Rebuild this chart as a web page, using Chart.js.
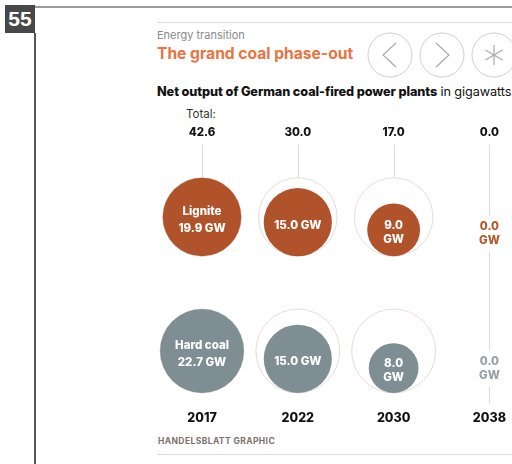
<!DOCTYPE html>
<html>
<head>
<meta charset="utf-8">
<script src="https://cdn.jsdelivr.net/npm/chart.js@4.4.1/dist/chart.umd.min.js"></script>
<style>
  body { margin: 0; width: 512px; height: 464px; overflow: hidden; background: #fff; position: relative; font-family: Inter, Lato, sans-serif; }
  .abs { position: absolute; }
  .badge { left: 5px; top: 5px; width: 30px; height: 28px; background: #484848; color: #fff; font: bold 21px "Liberation Sans", Arial, sans-serif; line-height: 28px; text-align: center; }
  .frameTop { left: 35px; top: 6px; width: 477px; height: 2px; background: #9b9b9b; }
  .frameLeft { left: 34px; top: 33px; width: 2px; height: 431px; background: #555; }
  .rule { left: 157px; width: 355px; height: 1px; background: #dcdcdc; }
  .kicker { left: 157px; top: 28px; font-size: 11px; color: #8a8a8a; }
  .title { left: 157px; top: 44px; font-size: 15.6px; font-weight: 700; color: #ea7340; }
  .subtitle { left: 157px; top: 84px; font-size: 12.7px; color: #111; white-space: nowrap; letter-spacing: -0.1px; }
  .subtitle b { font-weight: 800; }
  .total { left: 186px; top: 107px; font-size: 11.5px; color: #333; }
  .credit { left: 158px; top: 436px; font-size: 8.5px; font-weight: 700; color: #7b716c; letter-spacing: 0.4px; }
  #wrap { left: 140px; top: 100px; width: 372px; height: 335px; }
</style>
</head>
<body>
<div class="abs badge">55</div>
<div class="abs frameTop"></div>
<div class="abs frameLeft"></div>
<div class="abs rule" style="top:22px"></div>
<div class="abs kicker">Energy transition</div>
<div class="abs title">The grand coal phase-out</div>
<svg class="abs" style="left:360px;top:30px" width="152" height="52">
  <g fill="none" stroke="#d0d0d0" stroke-width="1">
    <circle cx="30" cy="25" r="22"/>
    <circle cx="82" cy="25" r="22"/>
    <circle cx="134" cy="25" r="22"/>
  </g>
  <g fill="none" stroke="#aaaaaa" stroke-width="1.2">
    <polyline points="36,13 23,25 36,37"/>
    <polyline points="76,13 89,25 76,37"/>
    <line x1="134" y1="15" x2="134" y2="35"/>
    <line x1="125.3" y1="20" x2="142.7" y2="30"/>
    <line x1="125.3" y1="30" x2="142.7" y2="20"/>
  </g>
</svg>
<div class="abs subtitle"><b>Net output of German coal-fired power plants</b> in gigawatts</div>
<div class="abs total">Total:</div>
<div class="abs" id="wrap"><canvas id="coalChart" width="372" height="335"></canvas></div>
<div class="abs credit">HANDELSBLATT GRAPHIC</div>
<div class="abs rule" style="top:454px"></div>

<script>
const years = ['2017', '2022', '2030', '2038'];
const lignite = [19.9, 15.0, 9.0, 0.0];
const hardCoal = [22.7, 15.0, 8.0, 0.0];
const seriesNames = ['Lignite', 'Hard coal'];

// layout of the canvas (pixels)
const CANVAS_H = 335;
const TOP_AXIS_H = 45;
const BOTTOM_AXIS_H = 30;
const PLOT_H = CANVAS_H - TOP_AXIS_H - BOTTOM_AXIS_H;

// area-proportional circles
const K = 8.8;
const radius = v => K * Math.sqrt(v);

const totals = years.map((y, i) => (lignite[i] + hardCoal[i]).toFixed(1));

const rows = [
    { name: seriesNames[0], values: lignite, y: 72, fill: '#b0532a', zero: '#b5582b' },
    { name: seriesNames[1], values: hardCoal, y: 206, fill: '#7f8e93', zero: '#97a2a6' }
];

const datasets = [];

rows.forEach(row => {
    const R = radius(row.values[0]);
    // filled circle, sitting on the bottom of the reference ring
    datasets.push({
        label: row.name,
        xAxisID: 'x',
        data: row.values.map((v, i) => ({ x: years[i], y: row.y + (R - radius(v)), r: radius(v) })),
        backgroundColor: row.fill,
        borderWidth: 0,
        clip: false,
        order: 0
    });
    // ring showing the 2017 size
    datasets.push({
        label: row.name + ' 2017',
        xAxisID: 'x',
        data: row.values.map((v, i) => ({ x: years[i], y: row.y, r: v > 0 ? R : 0 })),
        backgroundColor: '#ffffff',
        borderColor: '#e6dbd7',
        borderWidth: 1,
        clip: false,
        order: 1
    });
});

const stemPlugin = {
    id: 'stems',
    beforeDatasetsDraw(chart) {
        const ctx = chart.ctx;
        const xs = chart.scales.x;
        const ys = chart.scales.y;
        const area = chart.chartArea;
        const topRing = ys.getPixelForValue(rows[0].y) - radius(rows[0].values[0]);
        ctx.save();
        ctx.strokeStyle = '#dcdcdc';
        ctx.lineWidth = 1;
        years.forEach((y, i) => {
            const x = Math.round(xs.getPixelForValue(i)) + 0.5;
            const end = lignite[i] > 0 ? topRing : area.bottom - 2;
            ctx.beginPath();
            ctx.moveTo(x, area.top);
            ctx.lineTo(x, end);
            ctx.stroke();
        });
        ctx.restore();
    }
};

const labelPlugin = {
    id: 'bubbleLabels',
    afterDatasetsDraw(chart) {
        const ctx = chart.ctx;
        const xs = chart.scales.x;
        const ys = chart.scales.y;
        ctx.save();
        ctx.textAlign = 'center';
        ctx.textBaseline = 'middle';
        ctx.font = '800 11.5px Inter, Lato';
        rows.forEach((row, ri) => {
            const meta = chart.getDatasetMeta(ri * 2);
            const R = radius(row.values[0]);
            row.values.forEach((v, i) => {
                const r = radius(v);
                const val = v.toFixed(1);
                let lines, lh;
                if (v === 0) {
                    lines = [val, 'GW']; lh = 14;
                } else if (i === 0) {
                    lines = [row.name, val + ' GW']; lh = 17;
                } else if (ctx.measureText(val + ' GW').width < 2 * r - 14) {
                    lines = [val + ' GW']; lh = 14;
                } else {
                    lines = [val, 'GW']; lh = 14;
                }
                const x = xs.getPixelForValue(i);
                const cy = v === 0 ? ys.getPixelForValue(row.y) + 0.42 * R : meta.data[i].y + 3;
                const y0 = cy - (lines.length - 1) * lh / 2;
                if (v === 0) {
                    ctx.fillStyle = '#ffffff';
                    ctx.fillRect(x - 14, y0 - 11, 28, lh * (lines.length - 1) + 22);
                    ctx.fillStyle = row.zero;
                } else {
                    ctx.fillStyle = '#ffffff';
                }
                lines.forEach((t, li) => ctx.fillText(t, x, y0 + li * lh));
            });
        });
        ctx.restore();
    }
};

const axisTicks = size => ({
    padding: 6,
    color: '#111',
    autoSkip: false,
    maxRotation: 0,
    font: { family: 'Inter, Lato', size: size, weight: '800' }
});

new Chart(document.getElementById('coalChart'), {
    type: 'bubble',
    data: { labels: years, datasets: datasets },
    options: {
        responsive: false,
        animation: false,
        events: [],
        layout: { autoPadding: false, padding: { left: 62, right: 16, top: 0, bottom: 0 } },
        plugins: {
            legend: { display: false },
            tooltip: { enabled: false }
        },
        scales: {
            x: {
                type: 'category',
                position: 'bottom',
                offset: false,
                grid: { display: false, drawTicks: false },
                border: { display: false },
                ticks: axisTicks(12.5),
                afterFit: s => { s.height = BOTTOM_AXIS_H; }
            },
            xTop: {
                type: 'category',
                position: 'top',
                labels: totals,
                offset: false,
                grid: { display: false, drawTicks: false },
                border: { display: false },
                ticks: axisTicks(11.5),
                afterFit: s => { s.height = TOP_AXIS_H; }
            },
            y: {
                type: 'linear',
                display: false,
                min: 0,
                max: PLOT_H,
                reverse: true
            }
        }
    },
    plugins: [stemPlugin, labelPlugin]
});
</script>
</body>
</html>
